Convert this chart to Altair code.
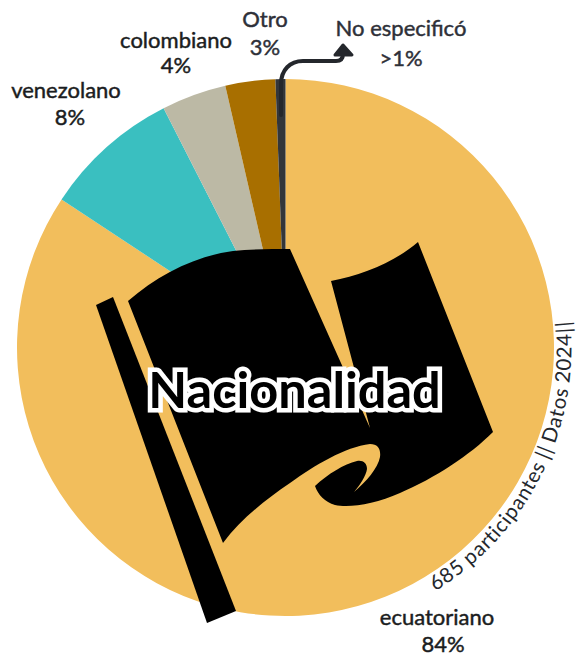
import math
import altair as alt
import pandas as pd

# ---- data ----
categories = ["ecuatoriano", "venezolano", "colombiano", "Otro", "No especificó"]
shares = [84.3, 8.2, 3.9, 3.0, 0.6]
colors = ["#F2BE5C", "#3ABFC0", "#BCB9A5", "#A86F00", "#33363A"]

label_text = ["venezolano", "8%", "colombiano", "4%", "Otro", "3%", "No especificó", ">1%", "ecuatoriano", "84%"]
label_x = [66, 70, 176, 176, 265, 265, 401, 401, 437, 443]
label_y = [98, 125, 48, 73, 27, 55, 36, 66, 625, 652]
label_color = ["#1b1d21", "#1b1d21", "#1b1d21", "#1b1d21", "#2e3038", "#2e3038", "#2e3038", "#2e3038", "#1b1d21", "#1b1d21"]

title = "Nacionalidad"
note = "685 participantes || Datos 2024||"
note_widths = {" ": .24, "|": .3, "i": .26, "t": .36, "r": .37, "s": .44, "c": .5, "l": .26, "e": .54,
               "a": .52, "p": .58, "n": .55, "D": .72, "o": .58, "6": .58, "8": .58, "5": .58, "2": .58, "0": .58, "4": .58}

# icon outlines, in page pixels
pole = "M96 305L113 297L236 611L207 623Z"
flag = ("M128 301C158 275 195 256 233 251C252 249 272 249 290 249L370 428L331 281C362 275 395 262 418 242"
        "L493 432C470 455 435 478 400 493C375 504 350 508 335 505C325 502 318 495 315 486"
        "C328 474 344 464 357 461C363 460 367 463 367 469C366 476 360 485 354 492"
        "C366 482 378 468 380 457C381 449 378 444 370 444C345 447 315 465 290 483C265 500 240 520 223 543Z")
arrow_line = "M281 115L281 84C281 70 290 61 303 61L336 61C341 61 343 58 343 54"
arrow_head = "M343 45L352 55L335 55Z"

# ---- chart ----
W, H = 568, 647
CX, CY, R = 285.5, 347.5, 268.5
xs = alt.Scale(domain=[8, 576], nice=False, zero=False)
ys = alt.Scale(domain=[655, 8], nice=False, zero=False)

pie_df = pd.DataFrame({"cat": categories, "v": shares, "o": range(5)})
pie = alt.Chart(pie_df).mark_arc(outerRadius=R, stroke=None).encode(
    theta=alt.Theta("v:Q", stack=True),
    order=alt.Order("o:Q"),
    color=alt.Color("cat:N", scale=alt.Scale(domain=categories, range=colors), legend=None),
    x=alt.value(CX - 8), y=alt.value(CY - 8),
)


def shape(path, **kw):
    return alt.Chart(pd.DataFrame({"a": [0]})).mark_point(shape=path, size=4, opacity=1, **kw).encode(
        x=alt.value(-8), y=alt.value(-8))


icon = shape(pole, filled=True, fill="#000000", stroke=None) + shape(flag, filled=True, fill="#000000", stroke=None)
arrow = (shape(arrow_line, filled=False, stroke="#24272C", strokeWidth=4, strokeCap="round")
         + shape(arrow_head, filled=True, fill="#24272C", stroke="#24272C", strokeWidth=3, strokeJoin="round"))

labels_df = pd.DataFrame({"t": label_text, "x": label_x, "y": label_y, "c": label_color})
labels = alt.Chart(labels_df).mark_text(font="Lato", fontSize=22, strokeWidth=0.45, baseline="alphabetic", align="center").encode(
    x=alt.X("x:Q", scale=xs, axis=None), y=alt.Y("y:Q", scale=ys, axis=None),
    text="t:N", color=alt.Color("c:N", scale=None), stroke=alt.Stroke("c:N", scale=None))

title_df = pd.DataFrame({"t": [title], "x": [294.5], "y": [408]})
tkw = dict(font="Lato", fontSize=50.5, fontWeight="bold", baseline="alphabetic", align="center")
title_enc = dict(x=alt.X("x:Q", scale=xs, axis=None), y=alt.Y("y:Q", scale=ys, axis=None), text="t:N")
title_back = alt.Chart(title_df).mark_text(stroke="#FFFFFF", strokeWidth=9, strokeJoin="miter", fill="#FFFFFF", **tkw).encode(**title_enc)
title_front = alt.Chart(title_df).mark_text(fill="#000000", **tkw).encode(**title_enc)

# note lettered along the rim of the pie; the page leaves it 576 px of width
fs, rad = 20.5, 286
phi = math.radians(58.5)
rows = []
for ch in note:
    w = note_widths.get(ch, .55) * fs * 1.06
    p = phi - (w / 2) / rad
    rows.append({"t": ch, "x": CX + rad * math.cos(p), "y": CY + rad * math.sin(p), "a": (math.degrees(p) - 90) % 360})
    phi -= w / rad
note_df = pd.DataFrame(rows)
note_mark = alt.Chart(note_df).mark_text(font="Lato", fontSize=fs, baseline="alphabetic", align="center", color="#24272C").encode(
    x=alt.X("x:Q", scale=xs, axis=None), y=alt.Y("y:Q", scale=ys, axis=None),
    text="t:N", angle=alt.Angle("a:Q", scale=None))

chart = alt.layer(pie, icon, arrow, labels, note_mark, title_back, title_front).resolve_scale(
    x="shared", y="shared", color="independent"
).properties(
    width=W, height=H, padding=0, autosize=alt.AutoSizeParams(type="none"),
).configure_view(stroke=None)

chart.save("out.html", embed_options={"renderer": "svg", "actions": False})
